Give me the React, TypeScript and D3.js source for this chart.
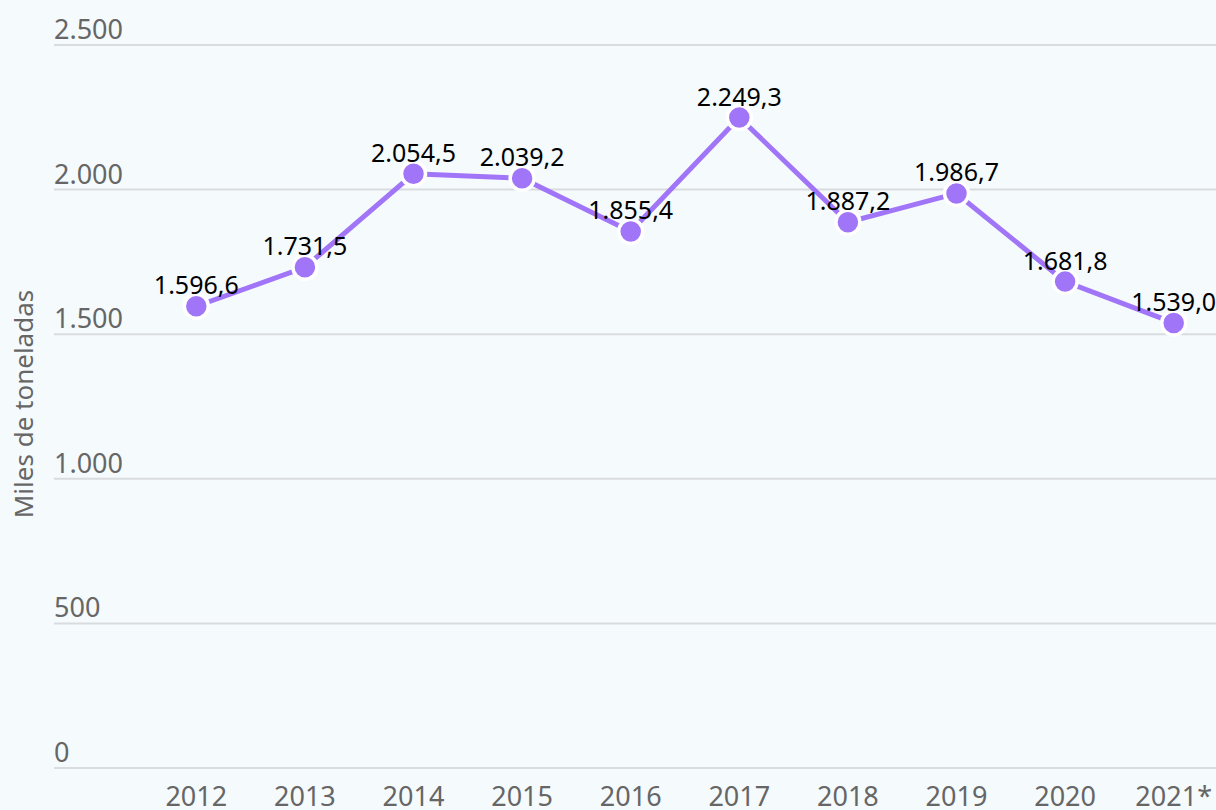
import { useRef, useEffect } from 'react';
import * as d3 from 'd3';

const years = ['2012', '2013', '2014', '2015', '2016', '2017', '2018', '2019', '2020', '2021*'];
const values = [1596.6, 1731.5, 2054.5, 2039.2, 1855.4, 2249.3, 1887.2, 1986.7, 1681.8, 1539.0];
const yTicks = [0, 500, 1000, 1500, 2000, 2500];

const WIDTH = 1216;
const HEIGHT = 810;
const FONT = '"Noto Sans", "Open Sans", sans-serif';

// Spanish number format: "." thousands, "," decimals
const esLocale = d3.formatLocale({ decimal: ',', thousands: '.', grouping: [3], currency: ['', '€'] });
const fmtTick = esLocale.format(',.0f');
const fmtValue = esLocale.format(',.1f');

export default function App() {
  const svgRef = useRef<SVGSVGElement>(null);

  useEffect(() => {
    if (!svgRef.current) return;
    const svg = d3.select(svgRef.current);
    svg.selectAll('*').remove();

    const gridLeft = 54;

    const xScale = d3.scaleBand<string>().domain(years).range([142, 1228]);
    const yScale = d3.scaleLinear().domain([0, 2500]).range([768, 45]);
    const cx = (d: string) => (xScale(d) ?? 0) + xScale.bandwidth() / 2;

    svg.append('rect').attr('width', WIDTH).attr('height', HEIGHT).attr('fill', '#f5fafd');

    // Grid lines + y tick labels
    const grid = svg.append('g');
    grid
      .selectAll('line')
      .data(yTicks)
      .join('line')
      .attr('x1', gridLeft)
      .attr('x2', WIDTH)
      .attr('y1', (d) => yScale(d))
      .attr('y2', (d) => yScale(d))
      .attr('stroke', '#d9dcde')
      .attr('stroke-width', 2);

    grid
      .selectAll('text')
      .data(yTicks)
      .join('text')
      .attr('x', gridLeft)
      .attr('y', (d) => yScale(d) - 6)
      .attr('fill', '#666')
      .attr('font-family', FONT)
      .attr('font-size', 27)
      .text((d) => fmtTick(d));

    // X tick labels
    svg
      .append('g')
      .selectAll('text')
      .data(years)
      .join('text')
      .attr('x', (d) => cx(d))
      .attr('y', 806)
      .attr('text-anchor', 'middle')
      .attr('fill', '#666')
      .attr('font-family', FONT)
      .attr('font-size', 27)
      .text((d) => d);

    // Y axis title
    svg
      .append('text')
      .attr('transform', `translate(33,404) rotate(-90)`)
      .attr('text-anchor', 'middle')
      .attr('fill', '#666')
      .attr('font-family', FONT)
      .attr('font-size', 26)
      .text('Miles de toneladas');

    const pts = years.map((y, i) => ({ year: y, value: values[i] }));

    const line = d3
      .line<{ year: string; value: number }>()
      .x((d) => cx(d.year))
      .y((d) => yScale(d.value));

    svg
      .append('path')
      .datum(pts)
      .attr('fill', 'none')
      .attr('stroke', '#a175f7')
      .attr('stroke-width', 5)
      .attr('d', line);

    svg
      .append('g')
      .selectAll('circle')
      .data(pts)
      .join('circle')
      .attr('cx', (d) => cx(d.year))
      .attr('cy', (d) => yScale(d.value))
      .attr('r', 12)
      .attr('fill', '#a175f7')
      .attr('stroke', '#fff')
      .attr('stroke-width', 3.5);

    // Data labels
    svg
      .append('g')
      .selectAll('text')
      .data(pts)
      .join('text')
      .attr('x', (d) => cx(d.year))
      .attr('y', (d) => yScale(d.value) - 12)
      .attr('text-anchor', 'middle')
      .attr('fill', '#000')
      .attr('font-family', FONT)
      .attr('font-size', 25)
      .text((d) => fmtValue(d.value));
  }, []);

  return (
    <svg
      ref={svgRef}
      width={WIDTH}
      height={HEIGHT}
      style={{ position: 'absolute', left: 0, top: 0, display: 'block' }}
    />
  );
}
